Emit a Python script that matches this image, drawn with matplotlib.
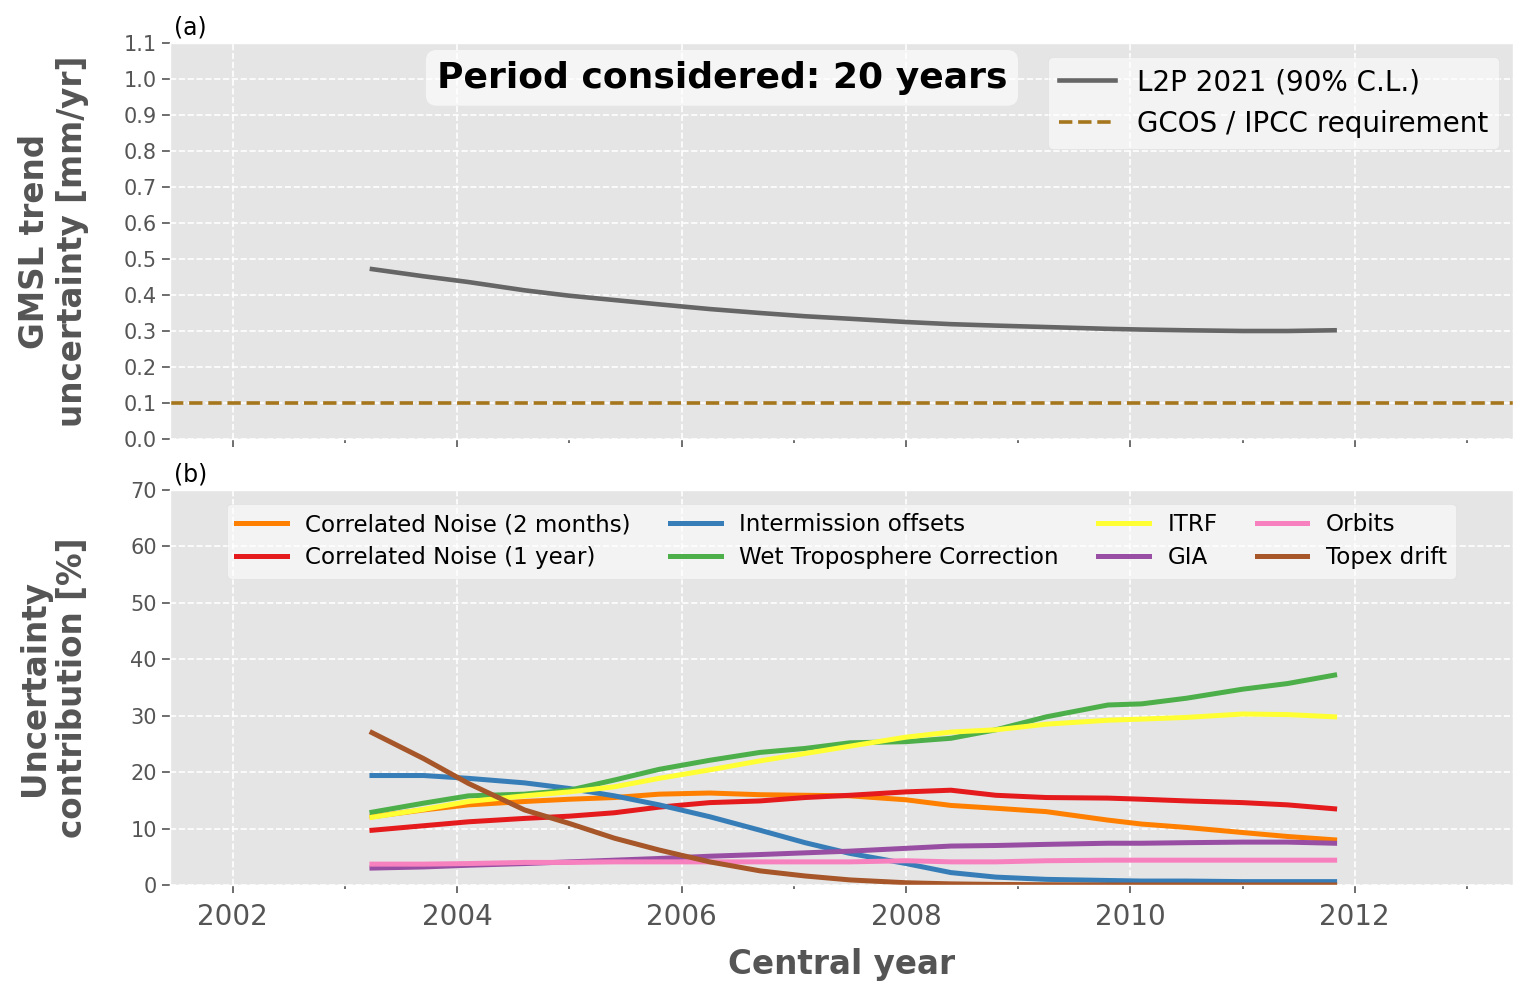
import numpy as np
import matplotlib
matplotlib.use("Agg")
import matplotlib.pyplot as plt
from matplotlib.ticker import MultipleLocator

# ---------------- data ----------------
years = [2003.24, 2003.7, 2004.1, 2004.6, 2005.0, 2005.4, 2005.8, 2006.25, 2006.7,
         2007.1, 2007.5, 2008.0, 2008.4, 2008.8, 2009.25, 2009.8, 2010.1, 2010.5,
         2011.0, 2011.4, 2011.82]

l2p_uncertainty = [0.472, 0.452, 0.436, 0.413, 0.398, 0.386, 0.374, 0.361, 0.350,
                   0.341, 0.334, 0.325, 0.319, 0.315, 0.311, 0.306, 0.304, 0.302,
                   0.300, 0.300, 0.302]
gcos_requirement = 0.1

cn_2months = [12.1, 13.3, 14.2, 14.8, 15.2, 15.5, 16.1, 16.3, 16.0, 15.9, 15.8,
              15.1, 14.1, 13.6, 13.0, 11.5, 10.8, 10.2, 9.3, 8.6, 8.0]
cn_1year = [9.7, 10.5, 11.2, 11.8, 12.2, 12.8, 13.8, 14.6, 14.9, 15.5, 15.9,
            16.5, 16.8, 15.9, 15.5, 15.4, 15.2, 14.9, 14.6, 14.2, 13.5]
intermission = [19.4, 19.4, 18.9, 18.1, 17.1, 15.8, 14.2, 12.1, 9.7, 7.5, 5.6,
                3.8, 2.2, 1.4, 1.0, 0.8, 0.7, 0.7, 0.6, 0.6, 0.6]
wet_tropo = [12.9, 14.5, 15.8, 16.1, 16.8, 18.6, 20.5, 22.1, 23.5, 24.2, 25.2,
             25.4, 26.0, 27.5, 29.8, 31.9, 32.1, 33.1, 34.7, 35.7, 37.2]
itrf = [12.0, 13.4, 14.8, 15.8, 16.5, 17.4, 18.9, 20.4, 22.0, 23.3, 24.6,
        26.2, 27.1, 27.5, 28.5, 29.2, 29.4, 29.7, 30.3, 30.2, 29.8]
gia = [3.0, 3.2, 3.5, 3.8, 4.1, 4.4, 4.7, 5.1, 5.4, 5.7, 6.0,
       6.5, 6.9, 7.0, 7.2, 7.4, 7.4, 7.5, 7.6, 7.6, 7.4]
orbits = [3.7, 3.7, 3.8, 4.0, 4.0, 4.1, 4.1, 4.1, 4.1, 4.1, 4.1,
          4.3, 4.1, 4.1, 4.3, 4.4, 4.4, 4.4, 4.4, 4.4, 4.4]
topex_drift = [27.0, 22.4, 18.0, 13.3, 10.9, 8.3, 6.2, 4.1, 2.5, 1.6, 0.9,
               0.4, 0.2, 0.1, 0.05, 0.0, 0.0, 0.0, 0.0, 0.0, 0.0]

contrib_labels = ["Correlated Noise (2 months)", "Correlated Noise (1 year)",
                  "Intermission offsets", "Wet Troposphere Correction",
                  "ITRF", "GIA", "Orbits", "Topex drift"]
contrib_values = [cn_2months, cn_1year, intermission, wet_tropo,
                  itrf, gia, orbits, topex_drift]
contrib_colors = ["#ff7f00", "#e41a1c", "#377eb8", "#4daf4a",
                  "#ffff33", "#984ea3", "#f781bf", "#a65628"]

# ---------------- style ----------------
plt.style.use("ggplot")
plt.rcParams["font.family"] = ["DejaVu Sans"]
plt.rcParams["grid.linestyle"] = "--"
plt.rcParams["grid.linewidth"] = 1.2
plt.rcParams["grid.color"] = "white"

W, H = 1527, 990
fig = plt.figure(figsize=(W / 100, H / 100), dpi=100)

def rect(x0, y0, x1, y1):
    return [x0 / W, 1 - y1 / H, (x1 - x0) / W, (y1 - y0) / H]

ax1 = fig.add_axes(rect(170, 43, 1513, 439))
ax2 = fig.add_axes(rect(170, 490, 1513, 885), sharex=ax1)

xlim = (2001.44, 2013.41)

# ---- panel (a)
ax1.plot(years, l2p_uncertainty, color="#666666", lw=3.3, label="L2P 2021 (90% C.L.)")
ax1.axhline(gcos_requirement, color="#a6761d", lw=2.6, ls="--",
            label="GCOS / IPCC requirement")
ax1.set_ylim(0, 1.1)
ax1.yaxis.set_major_locator(MultipleLocator(0.1))
ax1.set_ylabel("GMSL trend\nuncertainty [mm/yr]", fontsize=23.5, fontweight="bold",
               color="#555555")
ax1.legend(loc="upper right", fontsize=20, facecolor="white", framealpha=0.55,
           edgecolor="#d8d8d8", handlelength=2.0)
ax1.text(0.411, 0.912, "Period considered: 20 years", transform=ax1.transAxes,
         ha="center", va="center", fontsize=26, fontweight="bold", color="black",
         bbox=dict(boxstyle="round,pad=0.3", facecolor="white", alpha=0.65,
                   edgecolor="none"))
ax1.text(0.003, 1.01, "(a)", transform=ax1.transAxes, ha="left", va="bottom",
         fontsize=17, color="black")
plt.setp(ax1.get_xticklabels(), visible=False)

# ---- panel (b)
for lab, vals, col in zip(contrib_labels, contrib_values, contrib_colors):
    ax2.plot(years, vals, color=col, lw=3.6, label=lab)
ax2.set_ylim(0, 70)
ax2.yaxis.set_major_locator(MultipleLocator(10))
ax2.set_ylabel("Uncertainty\ncontribution [%]", fontsize=23.5, fontweight="bold",
               color="#555555")
ax2.set_xlabel("Central year", fontsize=23.5, fontweight="bold", color="#555555",
               labelpad=12)
ax2.legend(loc="upper center", ncol=4, fontsize=16.6, facecolor="white",
           framealpha=0.55, edgecolor="#d8d8d8", labelspacing=0.45,
           handlelength=2.2, columnspacing=1.7, borderaxespad=0.6)
ax2.text(0.003, 1.01, "(b)", transform=ax2.transAxes, ha="left", va="bottom",
         fontsize=17, color="black")

for ax in (ax1, ax2):
    ax.set_xlim(*xlim)
    ax.xaxis.set_major_locator(MultipleLocator(2))
    ax.xaxis.set_minor_locator(MultipleLocator(1))
    ax.grid(True, which="major", color="white", ls="--", lw=1.2)
    ax.grid(False, which="minor")
    ax.tick_params(axis="both", which="major", direction="out", length=6,
                   width=1.2, color="#555555")
    ax.tick_params(axis="x", which="minor", direction="out", length=3,
                   width=1.2, color="#555555")
    ax.tick_params(axis="y", labelsize=15, labelcolor="#555555")
    ax.tick_params(axis="x", labelsize=20, labelcolor="#555555", pad=7)
    ax.yaxis.set_label_coords(-0.060, 0.5)

fig.savefig("out.png", dpi=100)
